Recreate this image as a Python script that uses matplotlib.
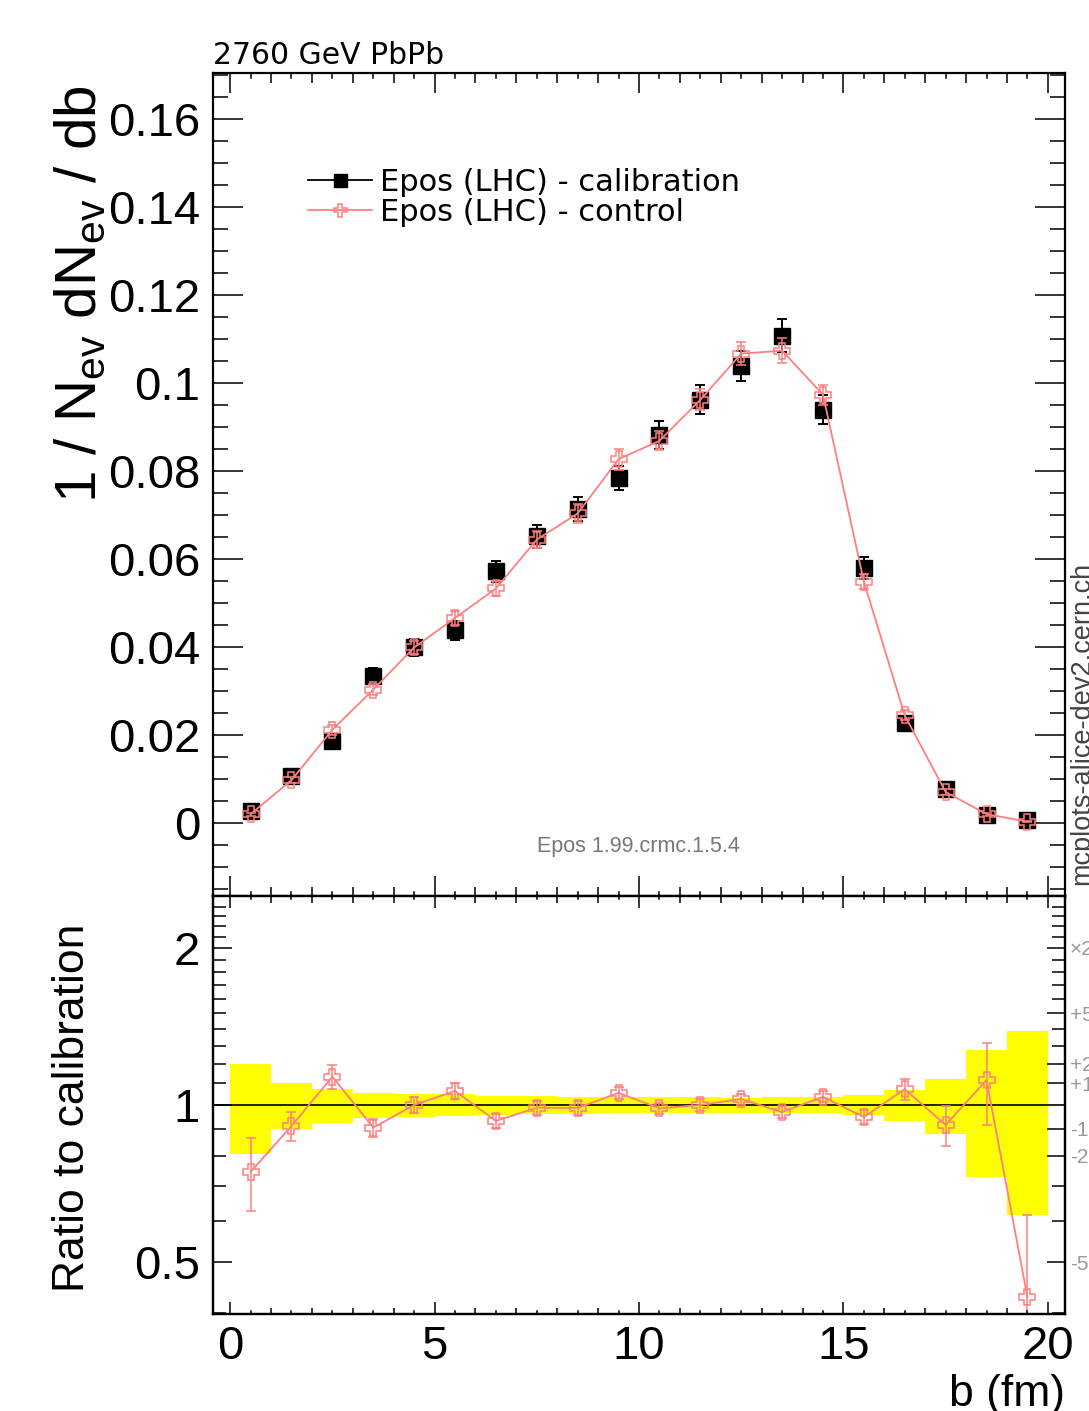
import numpy as np
import matplotlib
matplotlib.use("Agg")
import matplotlib.pyplot as plt
from matplotlib.ticker import FixedLocator, FixedFormatter, NullFormatter, MultipleLocator
from matplotlib.lines import Line2D

# impact-parameter bins (fm)
b_edges = np.arange(0.0, 21.0, 1.0)
b_centers = 0.5 * (b_edges[:-1] + b_edges[1:])

# 1/Nev dNev/db, Epos (LHC) calibration sample
calibration = [0.0027, 0.0107, 0.0187, 0.0335, 0.0399, 0.0438, 0.0572, 0.0652,
               0.0713, 0.0784, 0.0882, 0.0962, 0.1039, 0.1108, 0.0939, 0.0579,
               0.0228, 0.0077, 0.0018, 0.0007]
calibration_err = [0.00053, 0.00107, 0.0014, 0.00184, 0.0020, 0.0021, 0.0024, 0.0026,
                   0.0027, 0.0028, 0.0031, 0.0033, 0.0034, 0.0038, 0.0033, 0.0025,
                   0.0016, 0.00092, 0.00049, 0.00027]

# 1/Nev dNev/db, Epos (LHC) control sample
control = [0.00201, 0.00975, 0.02119, 0.03032, 0.0399, 0.0466, 0.05331, 0.06442,
           0.07037, 0.08271, 0.08688, 0.0962, 0.1067, 0.10737, 0.09737, 0.05489,
           0.02446, 0.00705, 0.00201, 0.0003]
control_err = [0.00032, 0.00064, 0.00112, 0.00124, 0.00144, 0.00158, 0.00172, 0.00196,
               0.00214, 0.00235, 0.0022, 0.0024, 0.0026, 0.0028, 0.0023, 0.0017,
               0.00114, 0.00062, 0.00036, 0.00013]

# deviation markers on the right edge of the ratio panel
dev_values = [2.0, 1.5, 1.2, 1.1, 0.9, 0.8, 0.5]
dev_labels = ["\u00d72", "+50%", "+20%", "+10%", "-10%", "-20%", "-50%"]

cal = np.array(calibration)
cal_e = np.array(calibration_err)
ctl = np.array(control)
ctl_e = np.array(control_err)
ratio = ctl / cal
ratio_err = ctl_e / cal
band_rel = cal_e / cal

RED = "#ff7f7f"
SANS = "Liberation Sans"

W, H = 1089, 1411
fig = plt.figure(figsize=(W / 100, H / 100), dpi=100)


def px_box(left, top, right, bottom):
    return [left / W, 1 - bottom / H, (right - left) / W, (bottom - top) / H]


def pt(px):
    return px * 72.0 / 100.0


ax = fig.add_axes(px_box(213, 73, 1065, 896))
rax = fig.add_axes(px_box(213, 896, 1065, 1314))

XLIM = (-0.42, 20.42)

# ---------------- main panel ----------------
ax.errorbar(b_centers, cal, yerr=cal_e, fmt="s", color="black", ms=pt(15.5),
            elinewidth=1.4, capsize=pt(5), capthick=1.4, zorder=3)
ax.errorbar(b_centers, ctl, yerr=ctl_e, fmt="-P", color=RED, mec=RED, mfc="none",
            ms=pt(16), mew=1.1, lw=1.3, elinewidth=1.1, capsize=pt(5), capthick=1.1,
            zorder=4)

ax.set_xlim(*XLIM)
ax.set_ylim(-0.0166, 0.1705)
ax.yaxis.set_minor_locator(MultipleLocator(0.005))
ax.set_yticks([0, 0.02, 0.04, 0.06, 0.08, 0.1, 0.12, 0.14, 0.16])
ax.set_yticklabels(["0", "0.02", "0.04", "0.06", "0.08", "0.1", "0.12", "0.14", "0.16"],
                   family=SANS, fontsize=34)
ax.xaxis.set_major_locator(MultipleLocator(5))
ax.xaxis.set_minor_locator(MultipleLocator(1))
ax.tick_params(axis="x", which="both", direction="in", top=True, bottom=True,
               labelbottom=False, width=1.1)
ax.tick_params(axis="x", which="major", length=pt(20))
ax.tick_params(axis="x", which="minor", length=pt(9.5))
ax.tick_params(axis="y", which="both", direction="in", left=True, right=True, width=1.1,
               pad=pt(13))
ax.tick_params(axis="y", which="major", length=pt(30))
ax.tick_params(axis="y", which="minor", length=pt(15))

handles = [
    Line2D([], [], color="black", marker="s", ms=pt(13), lw=1.3),
    Line2D([], [], color=RED, marker="P", mfc="none", mec=RED, ms=pt(13), mew=1.1, lw=1.3),
]
ax.legend(handles, ["Epos (LHC) - calibration", "Epos (LHC) - control"],
          loc="upper left", bbox_to_anchor=(308 / W, 1 - 168 / H),
          bbox_transform=fig.transFigure, frameon=False, borderpad=0, borderaxespad=0,
          handlelength=2.1, handletextpad=0.25, labelspacing=0.03,
          prop={"family": "DejaVu Sans", "size": 22})

ax.text(638 / W, 1 - 847 / H, "Epos 1.99.crmc.1.5.4", transform=fig.transFigure,
        ha="center", va="center", color="#777777", family=SANS, fontsize=15.5)

# ---------------- ratio panel ----------------
band_lo = np.append(1 - band_rel, 1 - band_rel[-1])
band_hi = np.append(1 + band_rel, 1 + band_rel[-1])
rax.fill_between(b_edges, band_lo, band_hi, step="post", color="#ffff00", lw=0, zorder=1)
rax.axhline(1.0, color="black", lw=1.2, zorder=2)
rax.errorbar(b_centers, ratio, yerr=ratio_err, fmt="-P", color=RED, mec=RED, mfc="none",
             ms=pt(16), mew=1.1, lw=1.3, elinewidth=1.1, capsize=pt(5), capthick=1.1,
             zorder=4)

rax.set_xlim(*XLIM)
rax.set_yscale("log")
RLIM = (1 / 2.516, 2.516)
rax.set_ylim(*RLIM)
minor_r = [v / 10 for v in range(4, 25) if v not in (5, 10, 20)]
rax.yaxis.set_major_locator(FixedLocator([0.5, 1.0, 2.0]))
rax.yaxis.set_major_formatter(FixedFormatter(["0.5", "1", "2"]))
rax.yaxis.set_minor_locator(FixedLocator(minor_r))
rax.yaxis.set_minor_formatter(NullFormatter())
rax.xaxis.set_major_locator(MultipleLocator(5))
rax.xaxis.set_minor_locator(MultipleLocator(1))
rax.tick_params(axis="x", which="both", direction="in", top=True, bottom=True, width=1.1,
                pad=pt(11), labelsize=34)
rax.tick_params(axis="x", which="major", length=pt(12))
rax.tick_params(axis="x", which="minor", length=pt(6.5))
rax.tick_params(axis="y", which="both", direction="in", left=True, right=False, width=1.1,
                pad=pt(13), labelsize=34)
rax.tick_params(axis="y", which="major", length=pt(19))
rax.tick_params(axis="y", which="minor", length=pt(13))
for lab in rax.get_xticklabels() + rax.get_yticklabels():
    lab.set_family(SANS)

# right-hand deviation scale
rax2 = rax.twinx()
rax2.set_yscale("log")
rax2.set_ylim(*RLIM)
rax2.yaxis.set_major_locator(FixedLocator(dev_values))
rax2.yaxis.set_major_formatter(FixedFormatter(dev_labels))
rax2.yaxis.set_minor_locator(FixedLocator([v for v in minor_r if v not in dev_values]))
rax2.yaxis.set_minor_formatter(NullFormatter())
rax2.tick_params(axis="y", which="both", direction="in", right=True, width=1.1,
                 pad=pt(5), labelsize=15, labelcolor="#999999")
rax2.tick_params(axis="y", which="major", length=pt(18))
rax2.tick_params(axis="y", which="minor", length=pt(13))
for lab in rax2.get_yticklabels():
    lab.set_family(SANS)

# half-integer ticks on the b axes
for a, short_px, h_px in ((ax, 4.5, 823.0), (rax, 3.0, 418.0)):
    f = short_px / h_px
    for xh in np.arange(0.5, 20.0, 1.0):
        a.plot([xh, xh], [0, f], transform=a.get_xaxis_transform(), color="black",
               lw=1.1, clip_on=False, zorder=5)
        a.plot([xh, xh], [1 - f, 1], transform=a.get_xaxis_transform(), color="black",
               lw=1.1, clip_on=False, zorder=5)

for a in (ax, rax, rax2):
    for s in a.spines.values():
        s.set_linewidth(1.6)

# ---------------- labels ----------------
fig.text(213 / W, 1 - 55 / H, "2760 GeV PbPb", ha="left", va="center",
         family="DejaVu Sans", fontsize=21.5)
fig.text(80 / W, 1 - 294 / H,
         r"1 / N$_{\mathregular{ev}}$ dN$_{\mathregular{ev}}$ / db",
         rotation=90, ha="center", va="center", family=SANS, fontsize=42)
fig.text(73 / W, 1 - 1108 / H, "Ratio to calibration", rotation=90,
         ha="center", va="center", family=SANS, fontsize=32)
fig.text(1065 / W, 1 - 1406 / H, "b (fm)", ha="right", va="baseline",
         family=SANS, fontsize=32)
fig.text(1082 / W, 1 - 885 / H, "mcplots-alice-dev2.cern.ch", rotation=90,
         ha="center", va="bottom", color="#444444", family=SANS, fontsize=19.5)

fig.savefig("out.png", dpi=100)
